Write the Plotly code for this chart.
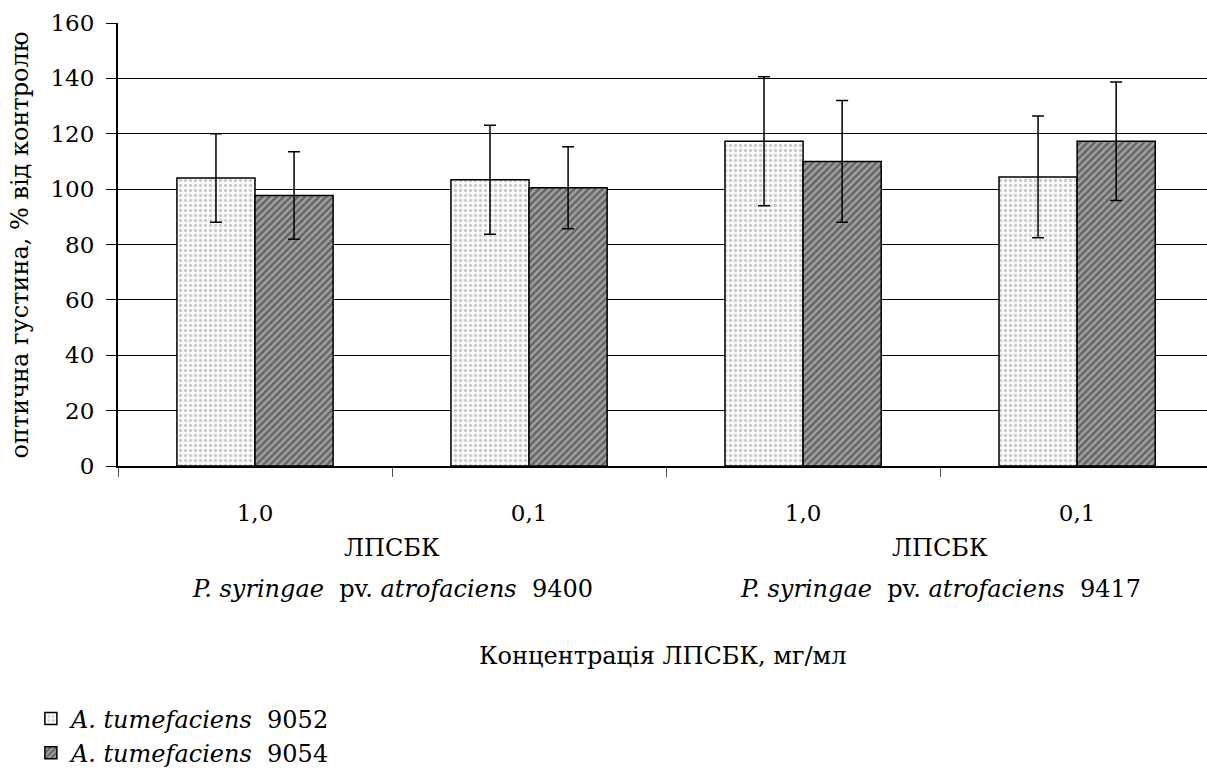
import plotly.graph_objects as go

categories = ["1,0 (9400)", "0,1 (9400)", "1,0 (9417)", "0,1 (9417)"]
tick_labels = ["1,0", "0,1", "1,0", "0,1"]
series_names = ["<i>A. tumefaciens</i>  9052", "<i>A. tumefaciens</i>  9054"]
values_9052 = [104.0, 103.4, 117.3, 104.4]
errors_9052 = [16.0, 19.7, 23.3, 22.0]
values_9054 = [97.7, 100.5, 110.0, 117.3]
errors_9054 = [15.8, 14.8, 22.0, 21.4]
group_labels = ["ЛПСБК", "ЛПСБК"]
strain_labels = ["<i>P. syringae</i>  pv. <i>atrofaciens</i>  9400",
                 "<i>P. syringae</i>  pv. <i>atrofaciens</i>  9417"]
y_ticks = [0, 20, 40, 60, 80, 100, 120, 140, 160]
y_tick_labels = [f"{v}\u00a0" for v in y_ticks]

FONT = "DejaVu Serif"
FS = 23
FA = 24

fig = go.Figure()
fig.add_trace(go.Bar(
    name=series_names[0], x=categories, y=values_9052, legendgroup="a",
    error_y=dict(type="data", array=errors_9052, color="black", thickness=1.5, width=6),
    marker=dict(color="#fbfbfb", line=dict(color="black", width=1.5),
                pattern=dict(shape=".", fgcolor="#9a9a9a", bgcolor="#fbfbfb", size=5, solidity=0.35)),
))
fig.add_trace(go.Bar(
    name=series_names[1], x=categories, y=values_9054, legendgroup="b",
    error_y=dict(type="data", array=errors_9054, color="black", thickness=1.5, width=6),
    marker=dict(color="#8c8c8c", line=dict(color="black", width=1.5),
                pattern=dict(shape="/", fgcolor="#2a2a2a", bgcolor="#a0a0a0", size=5, solidity=0.5)),
))

annotations = []
for i, (g, s) in enumerate(zip(group_labels, strain_labels)):
    xc = 0.5 + 2 * i
    annotations.append(dict(text=g, x=xc, xref="x", y=-0.184, yref="paper",
                            showarrow=False, xanchor="center", yanchor="middle",
                            font=dict(family=FONT, size=FA, color="black")))
    annotations.append(dict(text=s, x=xc, xref="x", y=-0.278, yref="paper",
                            showarrow=False, xanchor="center", yanchor="middle",
                            font=dict(family=FONT, size=FA, color="black")))
annotations.append(dict(text="Концентрація ЛПСБК, мг/мл", x=0.5, xref="paper", y=-0.429, yref="paper",
                        showarrow=False, xanchor="center", yanchor="middle",
                        font=dict(family=FONT, size=FA, color="black")))
annotations.append(dict(text="оптична густина, % від контролю", x=-0.09, xref="paper", y=0.5, yref="paper",
                        showarrow=False, xanchor="center", yanchor="middle", textangle=-90,
                        font=dict(family=FONT, size=FA, color="black")))

fig.update_layout(
    width=1207, height=776,
    margin=dict(l=118, r=0, t=23, b=310, autoexpand=False),
    paper_bgcolor="white", plot_bgcolor="white",
    barmode="group", bargap=0.43, bargroupgap=0,
    font=dict(family=FONT, size=FS, color="black"),
    showlegend=True,
    legend=dict(x=-0.08, y=-0.52, xanchor="left", yanchor="top",
                font=dict(family=FONT, size=FA, color="black"),
                bgcolor="rgba(0,0,0,0)", itemwidth=30, tracegroupgap=9,
                traceorder="normal"),
    annotations=annotations,
)
fig.update_xaxes(
    type="category", range=[-0.5, 3.474], automargin=False,
    tickmode="array", tickvals=categories, ticktext=tick_labels,
    tickson="boundaries", ticks="outside", ticklen=9, tickcolor="#555", tickwidth=1,
    showline=True, linecolor="black", linewidth=1.5,
    showgrid=False, zeroline=False, ticklabelstandoff=26,
    tickfont=dict(family=FONT, size=FS, color="black"),
)
fig.update_yaxes(
    range=[0, 160], tickmode="array", tickvals=y_ticks, ticktext=y_tick_labels,
    automargin=False,
    ticks="outside", ticklen=10, tickcolor="black", tickwidth=1,
    showline=True, linecolor="black", linewidth=1.5,
    showgrid=True, gridcolor="black", gridwidth=1, zeroline=False,
    tickfont=dict(family=FONT, size=FS, color="black"),
)

fig.write_html("out.html", config={"displayModeBar": False},
               post_script="document.body.style.margin='0';document.body.style.overflow='hidden';")
